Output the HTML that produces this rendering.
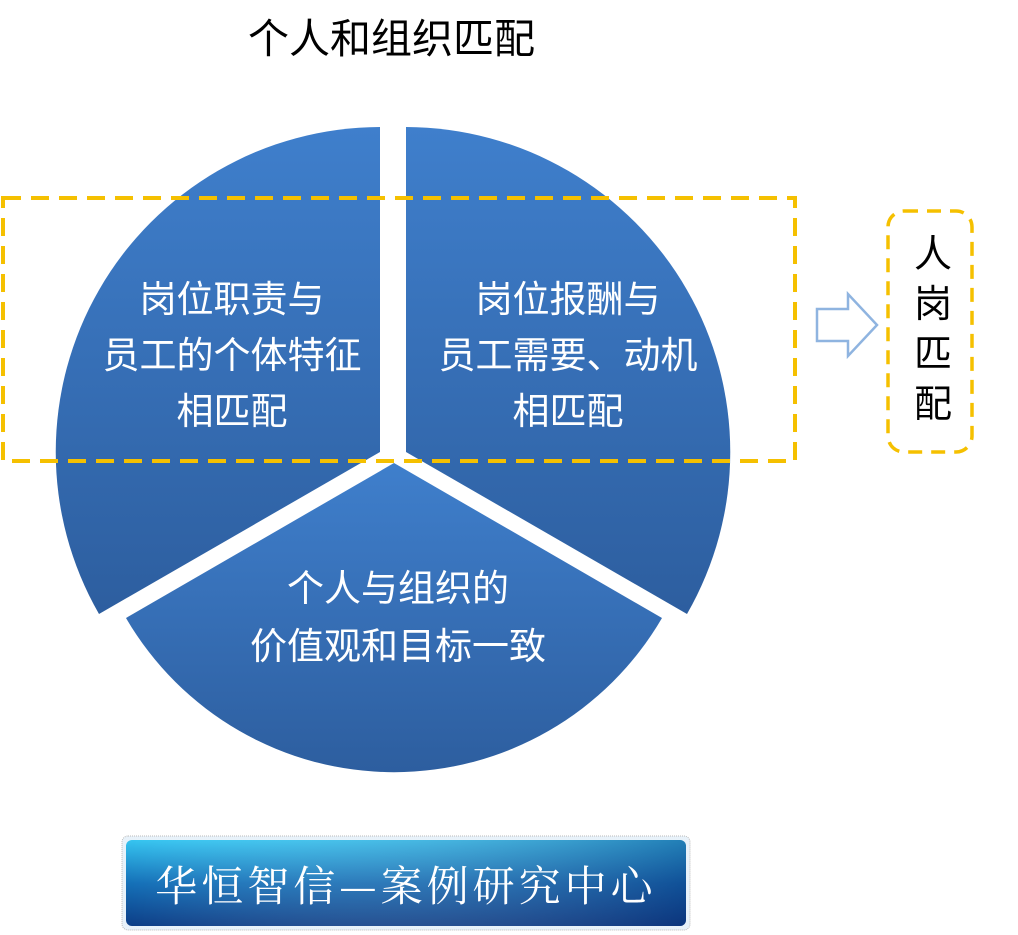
<!DOCTYPE html>
<html><head><meta charset="utf-8"><style>
body{margin:0;background:#fff;width:1018px;height:935px;overflow:hidden;position:relative;font-family:"Liberation Sans","Noto Sans CJK SC",sans-serif}
.t{position:absolute;white-space:nowrap;text-align:center}
</style></head><body>
<svg width="1018" height="935" style="position:absolute;left:0;top:0">
<defs>
<linearGradient id="g" x1="0" y1="0" x2="0" y2="1"><stop offset="0" stop-color="#3f7fcc"/><stop offset="1" stop-color="#2d5e9f"/></linearGradient>
<linearGradient id="b" x1="0" y1="0" x2="0" y2="1"><stop offset="0" stop-color="#35c4f0"/><stop offset="0.5" stop-color="#1470b8"/><stop offset="1" stop-color="#0c3d86"/></linearGradient>
<linearGradient id="b2" x1="0" y1="0" x2="1" y2="0"><stop offset="0" stop-color="#ffffff" stop-opacity="0"/><stop offset="1" stop-color="#0a2a70" stop-opacity="0.45"/></linearGradient>
</defs>
<path d="M380,452 L380,127 A325,325 0 0 0 99,614 Z" fill="url(#g)"/>
<path d="M406,452 L406,127 A325,325 0 0 1 687,614 Z" fill="url(#g)"/>
<path d="M394,463 L126,618 A310,310 0 0 0 662,618 Z" fill="url(#g)"/>
<rect x="3" y="198" width="792" height="263" fill="none" stroke="#f5c000" stroke-width="4" stroke-dasharray="18,10"/>
<rect x="888" y="211" width="84" height="241" rx="16" fill="none" stroke="#f5c000" stroke-width="3.5" stroke-dasharray="14,9"/>
<path d="M817,309 L848,309 L848,294 L877,325 L848,356 L848,341 L817,341 Z" fill="#fff" stroke="#8fb4e0" stroke-width="2.5"/>
<rect x="122" y="836" width="568" height="94" rx="6" fill="#e8f2fa" stroke="#bbb" stroke-dasharray="1,1"/>
<rect x="126" y="840" width="560" height="86" rx="6" fill="url(#b)"/>
<rect x="126" y="840" width="560" height="86" rx="6" fill="url(#b2)"/>
</svg>
<div class="t" style="left:248px;top:14px;font-size:41px;line-height:50px;color:#000">个人和组织匹配</div>
<div class="t" style="left:72px;top:272px;width:320px;font-size:37px;line-height:56px;color:#fff">岗位职责与<br>员工的个体特征<br>相匹配</div>
<div class="t" style="left:408px;top:272px;width:320px;font-size:37px;line-height:56px;color:#fff">岗位报酬与<br>员工需要、动机<br>相匹配</div>
<div class="t" style="left:200px;top:560px;width:396px;font-size:37px;line-height:58px;color:#fff">个人与组织的<br>价值观和目标一致</div>
<div class="t" style="left:908px;top:230px;width:50px;font-size:38px;line-height:50px;color:#000">人<br>岗<br>匹<br>配</div>
<div class="t" style="left:126px;top:856px;width:560px;font-size:42px;line-height:56px;color:#fff;font-family:'Noto Serif CJK SC',serif;letter-spacing:4px">华恒智信—案例研究中心</div>
</body></html>
